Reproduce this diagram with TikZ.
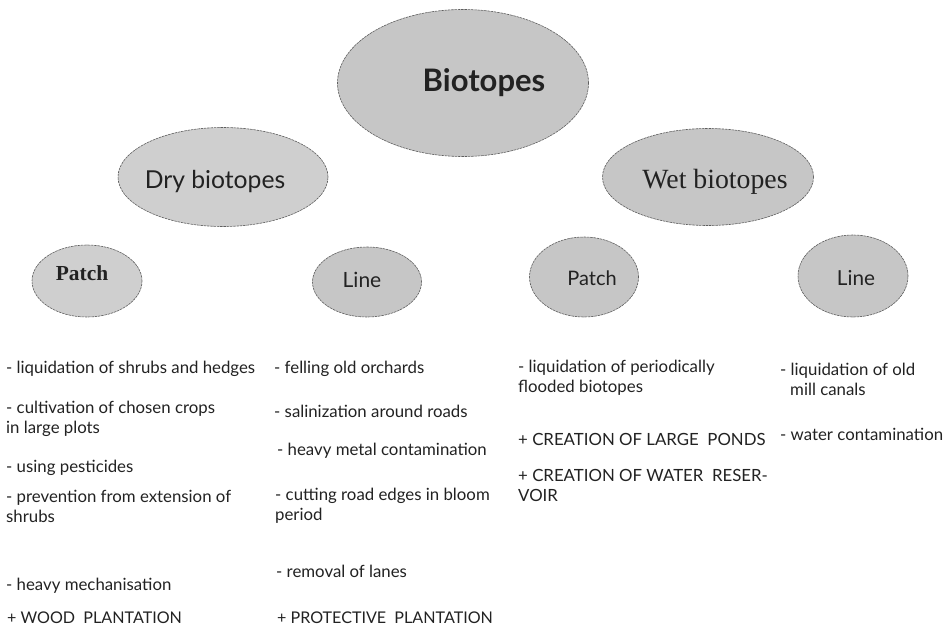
\documentclass[tikz,border=0pt]{standalone}
\usepackage{fontspec}
\setmainfont{Lato}
\newfontfamily\serifx{Liberation Serif}
\usetikzlibrary{shapes.geometric}
\definecolor{ink}{HTML}{222222}
\definecolor{blobfill}{HTML}{C6C6C6}
\definecolor{blobline}{HTML}{5E5E5E}
\begin{document}
\begin{tikzpicture}[x=1pt,y=-1pt,
  blob/.style={ellipse, draw=blobline, line width=0.6pt, dash pattern=on 2.5pt off 0.8pt,
               fill=blobfill, inner sep=0pt},
  lbl/.style={inner sep=0pt, text=ink},
  item/.style={anchor=base west, inner sep=0pt, text=ink, align=left,
               font=\fontsize{16.8}{19.5}\selectfont},
  capsitem/.style={item, font=\fontsize{16.1}{19.5}\selectfont}]
\useasboundingbox (0,0) rectangle (948,634);
\fill[white] (0,0) rectangle (948,634);
% ellipses
\node[blob, minimum width=251pt, minimum height=147pt] (bio) at (463,83) {};
\node[blob, fill=blobfill!85, minimum width=210pt, minimum height=99pt] (dry) at (223,177) {};
\node[blob, minimum width=211pt, minimum height=97pt] (wet) at (708,177) {};
\node[blob, fill=blobfill!85, minimum width=110pt, minimum height=72pt] (p1) at (87,281) {};
\node[blob, minimum width=109pt, minimum height=70pt] (l1) at (367,282) {};
\node[blob, minimum width=109pt, minimum height=80pt] (p2) at (584,277) {};
\node[blob, minimum width=110pt, minimum height=82pt] (l2) at (853,276) {};
% ellipse labels
\node[lbl, font=\fontsize{31}{34}\selectfont\bfseries] (tbio) at (484,83) {Biotopes};
\node[lbl, font=\fontsize{24.7}{27}\selectfont] (tdry) at (215,182) {Dry biotopes};
\node[lbl, font=\serifx\fontsize{27.8}{30}\selectfont] (twet) at (715,182) {Wet biotopes};
\node[lbl, font=\serifx\fontsize{21.4}{24}\selectfont\bfseries] (tp1) at (82,273) {Patch};
\node[lbl, font=\fontsize{21}{24}\selectfont] (tl1) at (362,280) {Line};
\node[lbl, font=\fontsize{20}{22}\selectfont] (tp2) at (592,278) {Patch};
\node[lbl, font=\fontsize{20.7}{23}\selectfont] (tl2) at (856,278) {Line};
% column 1
\node[item] (a1) at (6,373) {- liquidation of shrubs and hedges};
\node[item] (a2) at (6,433) {- cultivation of chosen crops\\in large plots};
\node[item] (a3) at (6,472) {- using pesticides};
\node[item] (a4) at (6,522) {- prevention from extension of\\shrubs};
\node[item] (a5) at (6,590) {- heavy mechanisation};
\node[capsitem] (a6) at (7,623) {+ WOOD\ \ PLANTATION};
% column 2
\node[item] (b1) at (274,373) {- felling old orchards};
\node[item] (b2) at (274,417) {- salinization around roads};
\node[item] (b3) at (277,455) {- heavy metal contamination};
\node[item] (b4) at (275,520) {- cutting road edges in bloom\\period};
\node[item] (b5) at (276,577) {- removal of lanes};
\node[capsitem] (b6) at (277,623) {+ PROTECTIVE\ \ PLANTATION};
% column 3
\node[item] (c1) at (518,392) {- liquidation of periodically\\flooded biotopes};
\node[item] (c2) at (518,445) {+ CREATION OF LARGE\ \ PONDS};
\node[item] (c3) at (518,501) {+ CREATION OF WATER\ \ RESER-\\VOIR};
% column 4
\node[item] (d1) at (780,395) {- liquidation of old\\\hspace*{10pt}mill canals};
\node[item] (d2) at (780,440) {- water contamination};
\end{tikzpicture}
\end{document}
